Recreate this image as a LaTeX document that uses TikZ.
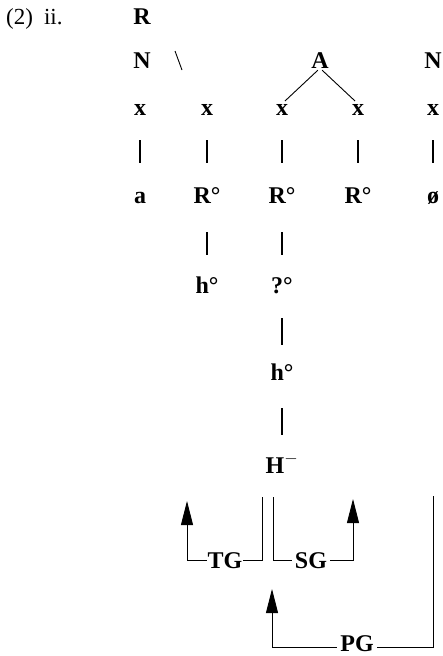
\documentclass[tikz,border=0pt]{standalone}
\usepackage{fontspec}
\setmainfont{Liberation Serif}
\usetikzlibrary{arrows.meta}
\begin{document}
\begin{tikzpicture}[x=1pt,y=-1pt,
  lab/.style={inner sep=0pt,anchor=base,font=\fontsize{24}{26}\selectfont\bfseries},
  reg/.style={inner sep=0pt,anchor=base west,font=\fontsize{23}{26}\selectfont},
  tick/.style={line width=1.5pt},
  thin/.style={line width=0.9pt},
  garr/.style={line width=0.9pt,-{Triangle[length=24pt,width=12pt]}},
  glab/.style={inner xsep=2pt,inner ysep=1pt,anchor=base,fill=white,font=\fontsize{24}{26}\selectfont\bfseries}]
\useasboundingbox (0,0) rectangle (443,656);
% heading
\node[reg] (ex) at (6,24) {(2)\hspace{11pt}ii.};
\node[lab] (R) at (142,24) {R};
% N row
\node[lab] (N1) at (142,68) {N};
\node[lab] (A) at (320,68) {A};
\node[lab] (N2) at (433,68) {N};
\coordinate (bs1) at (175,51);
\coordinate (bs2) at (182,70);
\draw[thin] (bs1) -- (bs2);
% x row
\foreach \i/\xx in {1/140,2/207,3/282,4/358,5/433}{
  \node[lab] (x\i) at (\xx,115) {x};
}
\draw[thin,shorten <=3pt,shorten >=4pt] (A.south) -- (x3.north);
\draw[thin,shorten <=3pt,shorten >=4pt] (A.south) -- (x4.north);
% segment row
\node[lab] (s1) at (140,203) {a};
\node[lab] (s2) at (207,203) {R°};
\node[lab] (s3) at (282,203) {R°};
\node[lab] (s4) at (358,203) {R°};
\node[lab] (s5) at (433,203) {ø};
\foreach \i in {1,...,5}{
  \draw[tick,shorten <=25pt,shorten >=40pt] (x\i.base) -- (s\i.base);
}
% lower
\node[lab] (h1) at (207,293) {h°};
\node[lab] (q) at (282,293) {?°};
\node[lab] (h2) at (282,380) {h°};
\node[lab] (H) at (282,473) {H$^-$};
\draw[tick,shorten <=29pt,shorten >=38pt] (s2.base) -- (h1.base);
\draw[tick,shorten <=29pt,shorten >=38pt] (s3.base) -- (q.base);
\draw[tick,shorten <=25pt,shorten >=35pt] (q.base) -- (h2.base);
\draw[tick,shorten <=28pt,shorten >=38pt] (h2.base) -- (H.base);
% gates
\coordinate (tgs) at (262,497);
\coordinate (tgc) at (187,560);
\coordinate (tge) at (187,501);
\coordinate (sgs) at (273,497);
\coordinate (sgc) at (353,560);
\coordinate (sge) at (353,499);
\coordinate (pgs) at (433,496);
\coordinate (pgc) at (272,647);
\coordinate (pge) at (272,589);
\draw[garr] (tgs) |- (tgc) -- (tge);
\draw[garr] (sgs) |- (sgc) -- (sge);
\draw[garr] (pgs) |- (pgc) -- (pge);
\node[glab,inner xsep=1pt] (TG) at (225,568) {TG};
\node[glab,inner xsep=3pt] (SG) at (311,568) {SG};
\node[glab,inner xsep=3pt] (PG) at (357,651) {PG};
\end{tikzpicture}
\end{document}
